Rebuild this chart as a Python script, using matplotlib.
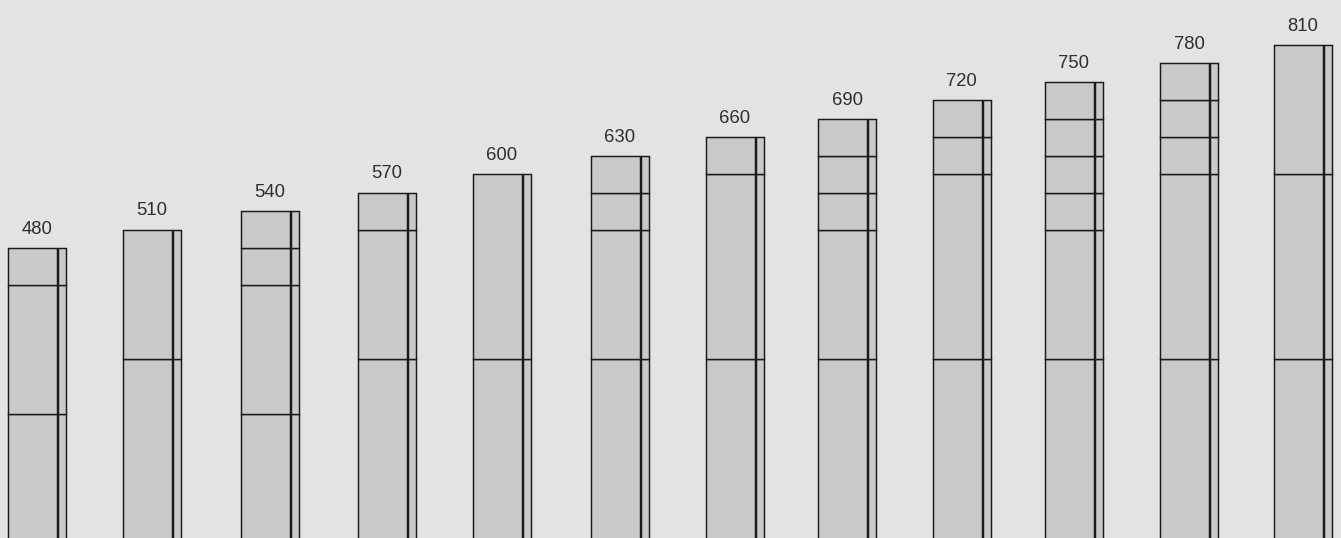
import matplotlib
matplotlib.use("Agg")
import matplotlib.pyplot as plt

totals = [480, 510, 540, 570, 600, 630, 660, 690, 720, 750, 780, 810]
segments = [
    [210, 210, 60],
    [300, 210],
    [210, 210, 60, 60],
    [300, 210, 60],
    [300, 300],
    [300, 210, 60, 60],
    [300, 300, 60],
    [300, 210, 60, 60, 60],
    [300, 300, 60, 60],
    [300, 210, 60, 60, 60, 60],
    [300, 300, 60, 60, 60],
    [300, 300, 210],
]

# layout: left edge of each bar group (in slot units)
x_left = [0, 1, 2.025, 3.04, 4.04, 5.065, 6.065, 7.04, 8.035, 9.01, 10.01, 11]

bg = "#e2e3e5"
bar_fill = "#c8c9cb"
edge = "#1a1a1a"

fig = plt.figure(figsize=(13.41, 5.38), dpi=100)
fig.patch.set_facecolor(bg)
ax = fig.add_axes([0, 0, 1, 1])
ax.set_facecolor(bg)

main_w = 0.426
gap = 0.009
strip_w = 0.066

for i, segs in enumerate(segments):
    x0 = x_left[i]
    bottom = 0
    for s in segs:
        ax.bar(x0, s, width=main_w, bottom=bottom, align="edge",
               color=bar_fill, edgecolor=edge, linewidth=1.05)
        ax.bar(x0 + main_w + gap, s, width=strip_w, bottom=bottom, align="edge",
               color=bar_fill, edgecolor=edge, linewidth=1.05)
        bottom += s
    ax.text(x0 + (main_w + gap + strip_w) / 2, totals[i] + 23, str(totals[i]),
            ha="center", va="baseline", fontsize=13.3, color="#2e2e2e",
            family="Liberation Sans")

ax.set_xlim(-0.0695, 11.581)
ax.set_ylim(8.6, 883.1)
ax.axis("off")

fig.savefig("out.png", dpi=100, facecolor=bg)
